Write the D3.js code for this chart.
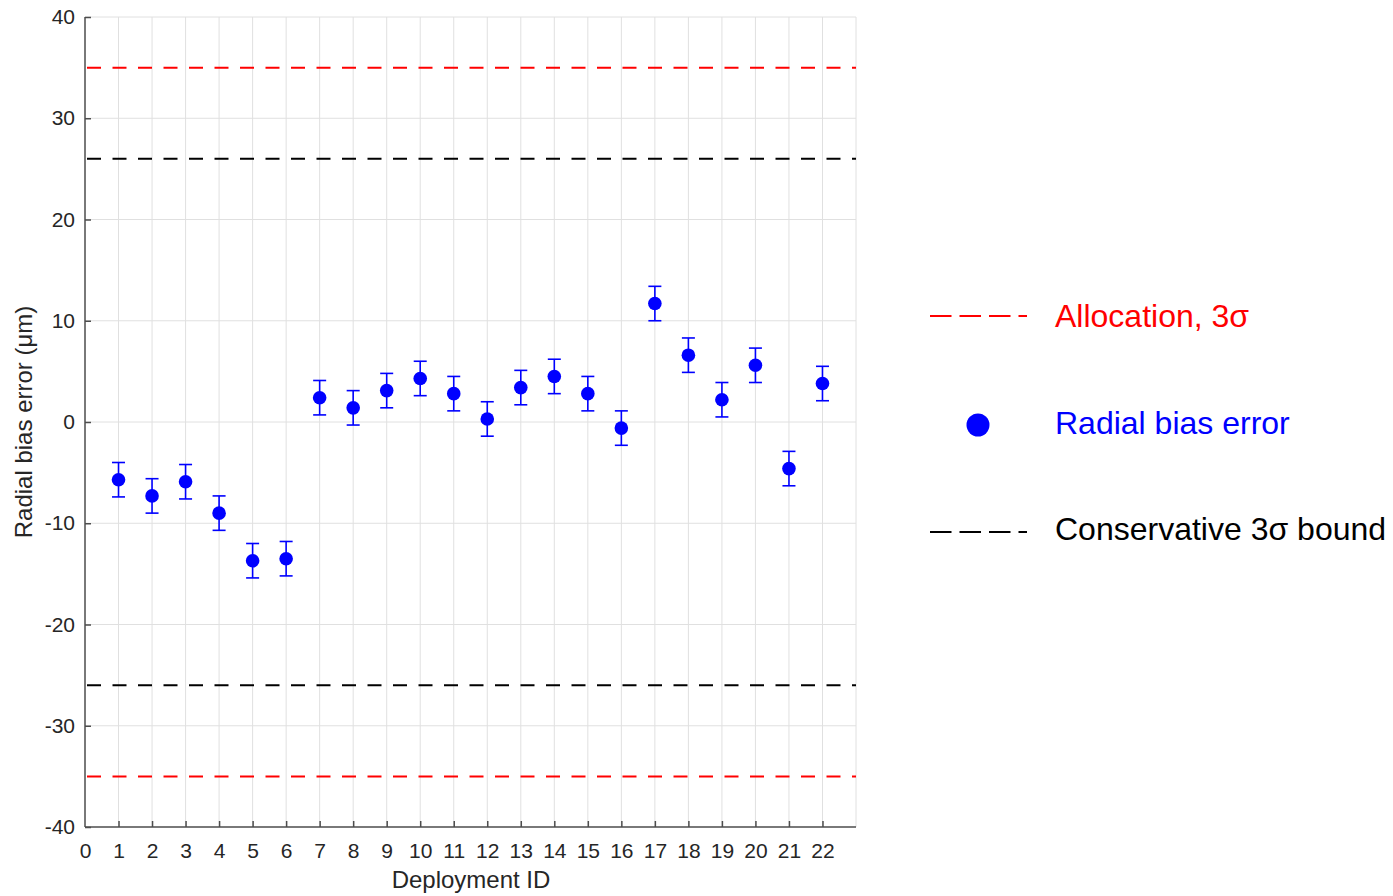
<!DOCTYPE html>
<html>
<head>
<meta charset="utf-8">
<script src="https://cdn.jsdelivr.net/npm/d3@7"></script>
<style>
  html, body { margin: 0; padding: 0; background: #fff; }
  svg { display: block; font-family: Arial, "Liberation Sans", sans-serif; }
</style>
</head>
<body>
<svg id="chart" width="1393" height="896"></svg>
<script>
// Deployment IDs and measured radial bias error (µm) with error bar half-widths
const deploymentIds = [1, 2, 3, 4, 5, 6, 7, 8, 9, 10, 11, 12, 13, 14, 15, 16, 17, 18, 19, 20, 21, 22];
const biasValues = [-5.7, -7.3, -5.9, -9.0, -13.7, -13.5, 2.4, 1.4, 3.1, 4.3, 2.8, 0.3, 3.4, 4.5, 2.8, -0.6, 11.7, 6.6, 2.2, 5.6, -4.6, 3.8];
const biasErrors = [1.7, 1.7, 1.7, 1.7, 1.7, 1.7, 1.7, 1.7, 1.7, 1.7, 1.7, 1.7, 1.7, 1.7, 1.7, 1.7, 1.7, 1.7, 1.7, 1.7, 1.7, 1.7];

// Reference bounds
const allocationBound = 35;
const conservativeBound = 26;

const xTicks = d3.range(0, 23);
const yTicks = [-40, -30, -20, -10, 0, 10, 20, 30, 40];

const legendLabels = ["Allocation, 3σ", "Radial bias error", "Conservative 3σ bound"];

const svg = d3.select("#chart");
const plotLeft = 85, plotRight = 856, plotTop = 17, plotBottom = 827;

const x = d3.scaleLinear().domain([0, 23]).range([plotLeft, plotRight]);
const y = d3.scaleLinear().domain([-40, 40]).range([plotBottom, plotTop]);

const axisColor = "#4d4d4d";
const textColor = "#262626";

// Grid
const grid = svg.append("g");
grid.selectAll(".vg").data(xTicks.filter(d => d > 0).concat([23])).enter().append("line")
  .attr("x1", d => x(d)).attr("x2", d => x(d))
  .attr("y1", plotTop).attr("y2", plotBottom)
  .attr("stroke", "#e0e0e0").attr("stroke-width", 1);
grid.selectAll(".hg").data(yTicks.filter(d => d > -40)).enter().append("line")
  .attr("x1", plotLeft).attr("x2", plotRight)
  .attr("y1", d => y(d)).attr("y2", d => y(d))
  .attr("stroke", "#e0e0e0").attr("stroke-width", 1);

// Bound lines
const bounds = [
  { v: allocationBound, c: "#ff0000" },
  { v: -allocationBound, c: "#ff0000" },
  { v: conservativeBound, c: "#000000" },
  { v: -conservativeBound, c: "#000000" }
];
svg.append("g").selectAll("line").data(bounds).enter().append("line")
  .attr("x1", plotLeft + 2).attr("x2", plotRight)
  .attr("y1", d => y(d.v)).attr("y2", d => y(d.v))
  .attr("stroke", d => d.c).attr("stroke-width", 2)
  .attr("stroke-dasharray", "14,11.5");

// Axes (ticks pointing inward, plain hyphen for negatives)
const plain = d => String(d);
const xAxis = d3.axisBottom(x).tickValues(xTicks).tickSize(-6).tickPadding(16).tickFormat(plain);
const yAxis = d3.axisLeft(y).tickValues(yTicks).tickSize(-6).tickPadding(10).tickFormat(plain);

const gx = svg.append("g").attr("transform", `translate(0,${plotBottom})`).call(xAxis);
const gy = svg.append("g").attr("transform", `translate(${plotLeft},0)`).call(yAxis);
[gx, gy].forEach(g => {
  g.select(".domain").attr("stroke", axisColor).attr("stroke-width", 1.5);
  g.selectAll(".tick line").attr("stroke", axisColor).attr("stroke-width", 1.5);
  g.selectAll(".tick text").attr("fill", textColor).attr("font-size", 21).attr("font-family", "Arial, 'Liberation Sans', sans-serif");
});
gx.selectAll(".tick text").attr("dy", "0.71em");
gx.select(".domain").attr("d", `M${plotLeft},0H${plotRight}`);
gy.select(".domain").attr("d", `M0,${plotBottom}V${plotTop}`);
gx.selectAll(".tick").filter(d => d === 0).select("line").remove();

// Axis titles
svg.append("text").attr("x", 471).attr("y", 888)
  .attr("text-anchor", "middle").attr("fill", textColor).attr("font-size", 24)
  .text("Deployment ID");
svg.append("text").attr("transform", `translate(32,${(plotTop + plotBottom) / 2}) rotate(-90)`)
  .attr("text-anchor", "middle").attr("fill", textColor).attr("font-size", 24)
  .text("Radial bias error (μm)");

// Error bars and points
const data = deploymentIds.map((id, i) => ({ id, v: biasValues[i], e: biasErrors[i] }));
const eb = svg.append("g").attr("stroke", "#0000ff").attr("stroke-width", 1.6);
const cap = 6.5;
data.forEach(d => {
  eb.append("line").attr("x1", x(d.id)).attr("x2", x(d.id)).attr("y1", y(d.v - d.e)).attr("y2", y(d.v + d.e));
  eb.append("line").attr("x1", x(d.id) - cap).attr("x2", x(d.id) + cap).attr("y1", y(d.v + d.e)).attr("y2", y(d.v + d.e));
  eb.append("line").attr("x1", x(d.id) - cap).attr("x2", x(d.id) + cap).attr("y1", y(d.v - d.e)).attr("y2", y(d.v - d.e));
});
svg.append("g").selectAll("circle").data(data).enter().append("circle")
  .attr("cx", d => x(d.id)).attr("cy", d => y(d.v)).attr("r", 6.8).attr("fill", "#0000ff");

// Legend
const lg = svg.append("g");
lg.append("line").attr("x1", 930).attr("x2", 1027).attr("y1", 316).attr("y2", 316)
  .attr("stroke", "#ff0000").attr("stroke-width", 2).attr("stroke-dasharray", "21.5,8");
lg.append("circle").attr("cx", 978).attr("cy", 425).attr("r", 11.5).attr("fill", "#0000ff");
lg.append("line").attr("x1", 930).attr("x2", 1027).attr("y1", 532).attr("y2", 532)
  .attr("stroke", "#000000").attr("stroke-width", 2).attr("stroke-dasharray", "21.5,8");
const legendColors = ["#ff0000", "#0000ff", "#000000"];
const legendY = [327, 434, 540];
legendLabels.forEach((t, i) => {
  lg.append("text").attr("x", 1055).attr("y", legendY[i]).attr("fill", legendColors[i])
    .attr("font-size", 32).text(t);
});
</script>
</body>
</html>
